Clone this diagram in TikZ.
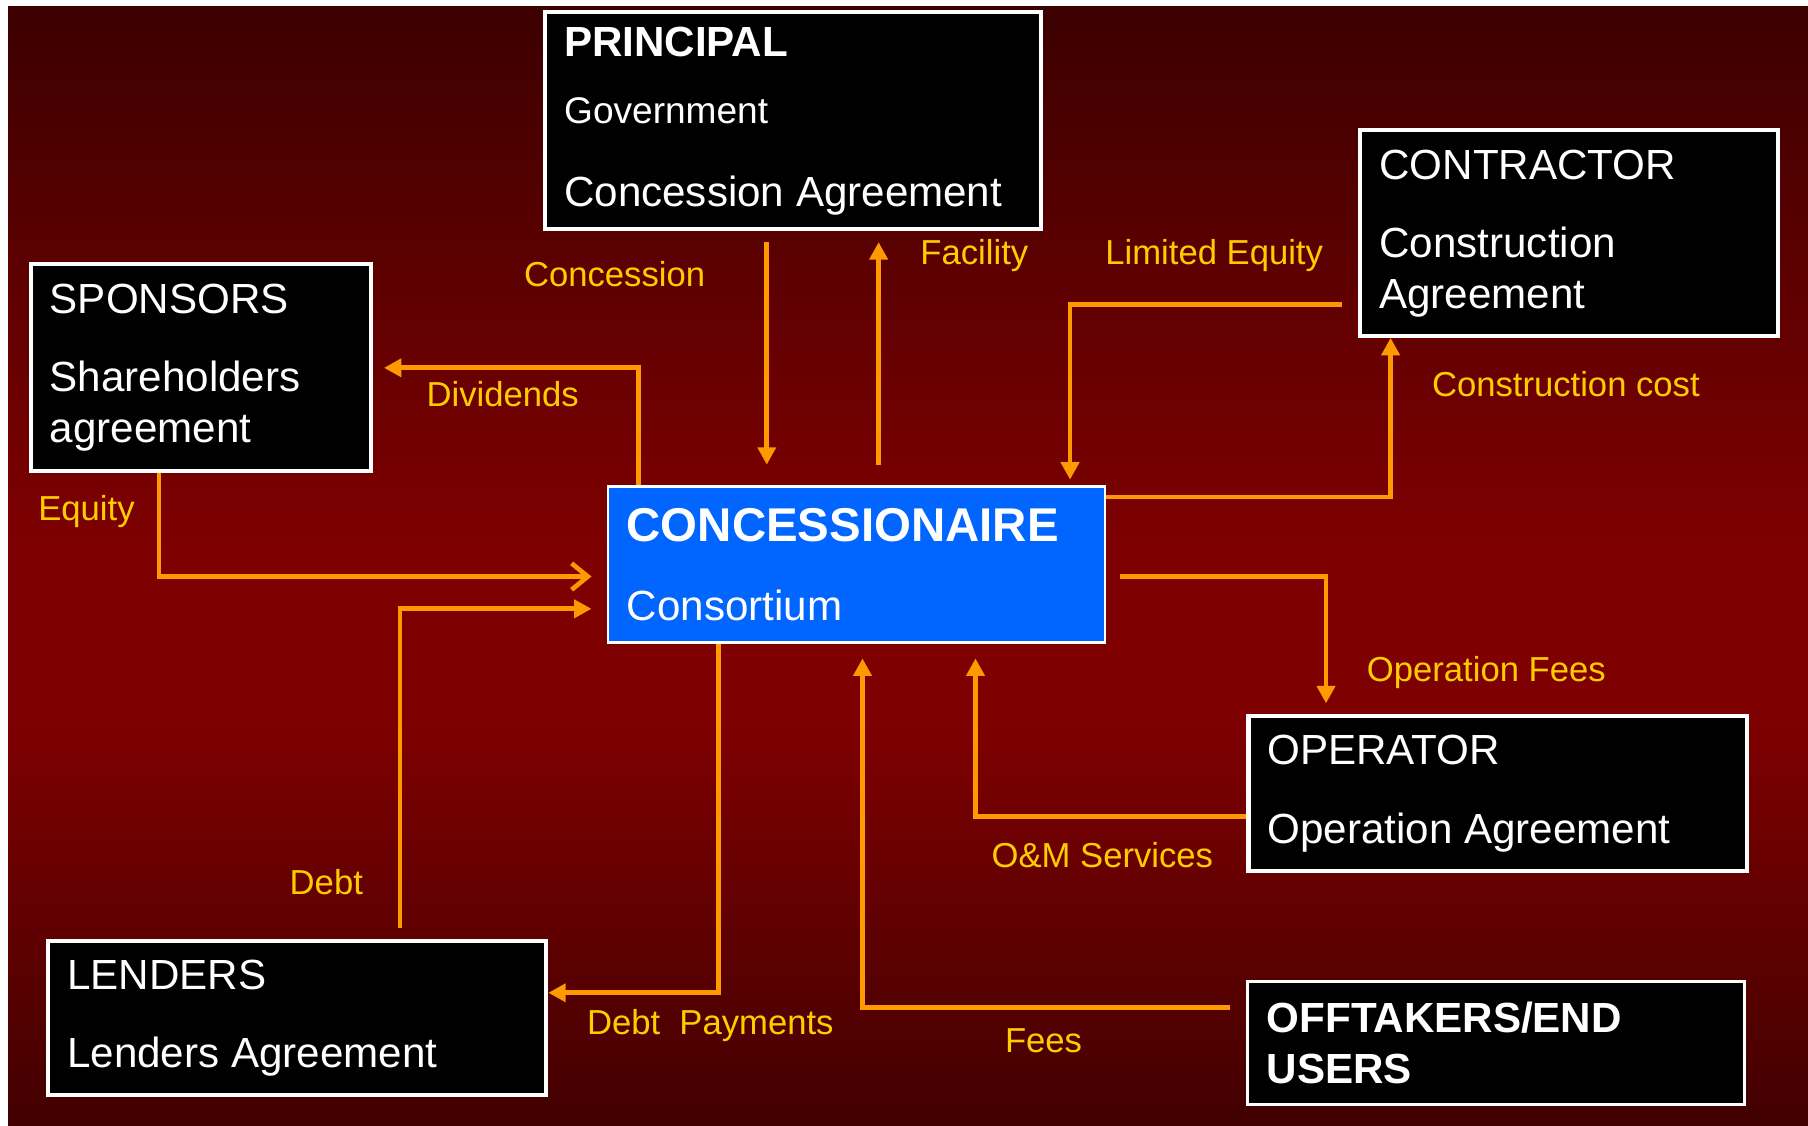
\documentclass[tikz,border=0pt]{standalone}
\usepackage{fontspec}
\setmainfont{Liberation Sans}
\usetikzlibrary{arrows.meta}

\definecolor{slidetop}{HTML}{3C0000}
\definecolor{slidemid}{HTML}{7E0000}
\definecolor{slidebot}{HTML}{420000}
\definecolor{flowcol}{HTML}{FF9900}
\definecolor{flowtext}{HTML}{FFCC00}
\definecolor{hubblue}{HTML}{0066FF}

% dark at the edges, brightest a little below the middle
\pgfdeclareverticalshading{slide}{100bp}{color(0bp)=(slidebot); color(25bp)=(slidebot);
  color(43bp)=(slidemid); color(51bp)=(slidemid); color(75bp)=(slidetop); color(100bp)=(slidetop)}

\newcommand{\boxfont}{\fontsize{20.8pt}{25pt}\selectfont}
\newcommand{\govfont}{\fontsize{18.3pt}{25pt}\selectfont}
\newcommand{\hubfont}{\fontsize{23.4pt}{25pt}\selectfont\bfseries}
\newcommand{\flowfont}{\fontsize{17.1pt}{20pt}\selectfont}

\tikzset{
  party/.style={draw=white, line width=2pt, fill=black, text=white, anchor=north west,
    align=flush left, inner xsep=3.3mm, inner ysep=0pt, font=\boxfont},
  hub/.style={party, fill=hubblue, line width=1.2pt},
  flowline/.style={draw=flowcol, line width=2.3pt, -{Triangle[length=8.6pt,width=8.8pt]}},
  flowlabel/.style={text=flowtext, font=\flowfont, inner sep=0pt},
}

\begin{document}
\begin{tikzpicture}[x=0.2mm, y=-0.2mm]

  % slide background
  \fill[white] (0,0) rectangle (1568,976);
  \begin{scope}[y=0.2mm]
    \shade[shading=slide] (7,-976) rectangle (1568,-6);
  \end{scope}

  % the parties
  \node[party, minimum width=86mm, minimum height=37.6mm, text width=79.4mm] (principal) at (471,9)
    {\textbf{PRINCIPAL}\\[8pt]{\govfont Government}\\[16pt]Concession Agreement};
  \node[party, minimum width=72.4mm, minimum height=35.8mm, text width=65.8mm] (contractor) at (1178,111)
    {CONTRACTOR\\[13.7pt]Construction\\Agreement};
  \node[party, minimum width=59mm, minimum height=36mm, text width=52.4mm] (sponsors) at (25,227)
    {SPONSORS\\[13.7pt]Shareholders\\agreement};
  \node[hub, minimum width=86.2mm, minimum height=27mm, text width=79.6mm] (conc) at (526,421)
    {{\hubfont CONCESSIONAIRE}\\[13.7pt]Consortium};
  \node[party, minimum width=86.4mm, minimum height=27mm, text width=79.8mm] (operator) at (1081,619)
    {OPERATOR\\[13.7pt]Operation Agreement};
  \node[party, minimum width=86.4mm, minimum height=26.8mm, text width=79.8mm] (lenders) at (40,814)
    {LENDERS\\[13.7pt]Lenders Agreement};
  \node[party, line width=1.2pt, font=\boxfont\bfseries, minimum width=86.2mm, minimum height=21.4mm,
    text width=79.6mm] (offtakers) at (1081,850)
    {OFFTAKERS/END\\USERS};

  % bends and loose ends of the flows
  \coordinate (cs) at (665,210);  \coordinate (ce) at (665,403);
  \coordinate (fs) at (762,403);  \coordinate (fe) at (762,210);
  \coordinate (dv) at (554,319);  \coordinate (dvtip) at (333,319);
  \coordinate (eq) at (138,500);  \coordinate (eqtip) at (513,500);
  \coordinate (db) at (347,805);  \coordinate (dbtip) at (513,528);
  \coordinate (dp) at (623,861);
  \coordinate (le) at (1164,264); \coordinate (letip) at (928,416);
  \coordinate (cc) at (1206,431); \coordinate (cctip) at (1206,293);
  \coordinate (of) at (971,500);  \coordinate (oftip) at (1150,610);
  \coordinate (om) at (846,708);  \coordinate (omtip) at (846,571);
  \coordinate (fee) at (1067,874); \coordinate (feetip) at (748,571);

  % flows
  \draw[flowline] (cs) -- (ce);
  \draw[flowline] (fs) -- (fe);
  \draw[flowline] (conc.north -| dv) |- (dvtip);
  \draw[flowline, -{Straight Barb[length=8pt,width=13pt]}] (sponsors.south -| eq) |- (eqtip);
  \draw[flowline] (db) |- (dbtip);
  \draw[flowline] (conc.south -| dp) |- (lenders.east |- dp);
  \draw[flowline] (le) -| (letip);
  \draw[flowline] (conc.east |- cc) -| (cctip);
  \draw[flowline] (of) -| (oftip);
  \draw[flowline] (operator.west |- om) -| (omtip);
  \draw[flowline] (fee) -| (feetip);

  % flow labels
  \node[flowlabel] (lconcession) at (533,238) {Concession};
  \node[flowlabel] (lfacility) at (845,222) {Facility};
  \node[flowlabel] (ldividends) at (436,342) {Dividends};
  \node[flowlabel] (lequity) at (75,444) {Equity};
  \node[flowlabel] (ldebt) at (283,765) {Debt};
  \node[flowlabel] (ldebtpay) at (616,889) {Debt\ \ Payments};
  \node[flowlabel] (llimited) at (1053,222) {Limited Equity};
  \node[flowlabel] (lcost) at (1358,333) {Construction cost};
  \node[flowlabel] (lopfees) at (1289,583) {Operation Fees};
  \node[flowlabel] (lservices) at (956,742) {O\&M Services};
  \node[flowlabel] (lfees) at (905,903) {Fees};

\end{tikzpicture}
\end{document}
